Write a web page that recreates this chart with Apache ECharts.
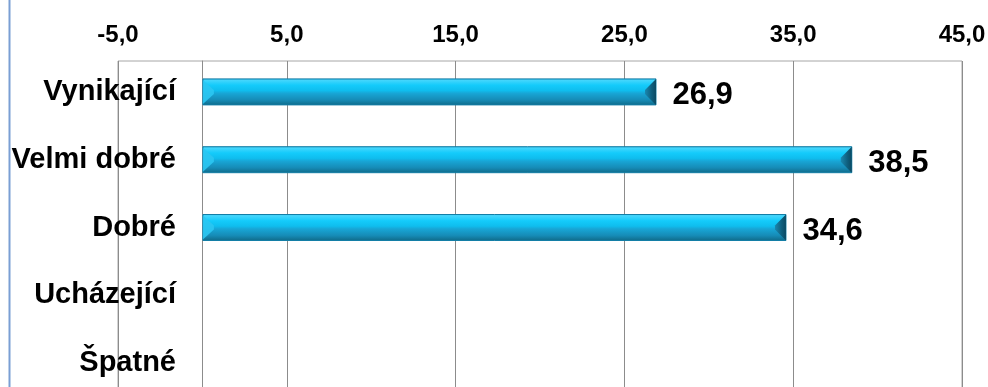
<!DOCTYPE html>
<html>
<head>
<meta charset="utf-8">
<script src="https://cdn.jsdelivr.net/npm/echarts@6/dist/echarts.min.js"></script>
<style>
html,body{margin:0;padding:0;background:#fff;}
#c{width:988px;height:387px;}
</style>
</head>
<body>
<div id="c"></div>
<script>
var categories = ['Vynikající', 'Velmi dobré', 'Dobré', 'Ucházející', 'Špatné'];
var values = [26.9, 38.5, 34.6, null, null];
var axisMin = -5;
var axisMax = 45;
var axisStep = 10;

function fmt(v) { return Number(v).toFixed(1).replace('.', ','); }

var BAR_W = 27;
var bevelData = values.map(function (v, i) { return [v, i]; }).filter(function (d) { return d[0] != null; });
var labelFont = {color: '#000', fontFamily: 'Liberation Sans, Arial', fontWeight: 'bold'};

var chart = echarts.init(document.getElementById('c'), null, {renderer: 'canvas'});
chart.setOption({
  animation: false,
  backgroundColor: '#ffffff',
  grid: [
    {left: 118, right: 26, top: 61, height: 335, containLabel: false, outerBoundsMode: 'none',
      show: true, borderColor: '#a6a6a6', borderWidth: 1},
    {left: 118, right: 26, top: 58, height: 339, containLabel: false, outerBoundsMode: 'none', show: false}
  ],
  xAxis: [{
    gridIndex: 0, type: 'value', position: 'top', min: axisMin, max: axisMax, interval: axisStep,
    axisLine: {show: false}, axisTick: {show: false},
    splitLine: {show: true, lineStyle: {color: '#8c8c8c', width: 1}},
    axisLabel: Object.assign({formatter: fmt, fontSize: 24, margin: 14}, labelFont)
  }, {
    gridIndex: 1, type: 'value', min: axisMin, max: axisMax, interval: axisStep, show: false
  }],
  yAxis: [{
    gridIndex: 0, type: 'category', data: categories, inverse: true,
    axisLine: {show: true, onZero: true, lineStyle: {color: '#8c8c8c', width: 1}},
    axisTick: {show: false}, axisLabel: {show: false}, splitLine: {show: false}
  }, {
    gridIndex: 1, type: 'category', data: categories, inverse: true,
    axisLine: {show: false}, axisTick: {show: false}, splitLine: {show: false},
    axisLabel: Object.assign({fontSize: 29, margin: -58}, labelFont)
  }],
  series: [{
    type: 'bar', xAxisIndex: 1, yAxisIndex: 1, data: values, barWidth: BAR_W, z: 2,
    itemStyle: {
      color: new echarts.graphic.LinearGradient(0, 0, 0, 1, [
        {offset: 0, color: '#1b9fcf'},
        {offset: 0.06, color: '#46d6fc'},
        {offset: 0.25, color: '#14cbfb'},
        {offset: 0.45, color: '#0fbdee'},
        {offset: 0.55, color: '#18a6d6'},
        {offset: 0.8, color: '#168bb6'},
        {offset: 1, color: '#0f6987'}
      ]),
      borderColor: '#137ea6', borderWidth: 1
    },
    label: Object.assign({show: true, position: 'right', distance: 16, offset: [0, 4], fontSize: 31,
      formatter: function (p) { return fmt(p.value); }}, labelFont)
  }, {
    type: 'custom', xAxisIndex: 1, yAxisIndex: 1, z: 3, data: bevelData, encode: {x: 0, y: 1}, silent: true,
    renderItem: function (params, api) {
      var s = api.coord([0, api.value(1)]);
      var e = api.coord([api.value(0), api.value(1)]);
      var h = BAR_W;
      var x0 = s[0] + 0.5, x1 = e[0] - 0.5, y0 = e[1] - h / 2 + 0.5, y1 = e[1] + h / 2 - 0.5, cy = e[1];
      var b = 11;
      return {
        type: 'group',
        children: [{
          type: 'polygon',
          shape: {points: [[x1 - b, y0 + b], [x1, y0], [x1, y1], [x1 - b, y1 - b]]},
          style: {fill: new echarts.graphic.LinearGradient(0, 0, 1, 0, [
            {offset: 0, color: '#1a88b0'}, {offset: 0.6, color: '#0f5f7e'}, {offset: 1, color: '#0b4a63'}])}
        }, {
          type: 'polygon',
          shape: {points: [[x0, y0 + 1], [x0 + b, cy - 2], [x0 + b, cy + 2], [x0, y1 - 1]]},
          style: {fill: '#2bc6f2', opacity: 0.9}
        }]
      };
    }
  }],
  graphic: [{type: 'line', shape: {x1: 9.5, y1: 0, x2: 9.5, y2: 387}, style: {stroke: '#7a9fd4', lineWidth: 2}}]
});
</script>
</body>
</html>
